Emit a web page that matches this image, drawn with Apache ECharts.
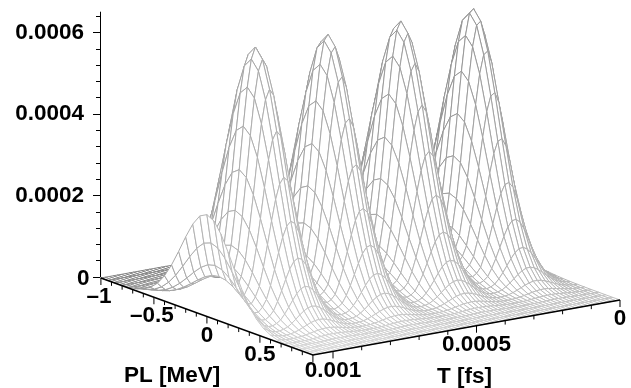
<!DOCTYPE html>
<html>
<head>
<meta charset="utf-8">
<style>
html, body { margin: 0; padding: 0; background: #fff; }
#chart { width: 631px; height: 388px; }
</style>
<script src="https://cdn.jsdelivr.net/npm/echarts@6/dist/echarts.min.js"></script>
</head>
<body>
<div id="chart"></div>
<script>
// height along the PL = 0 crest, one value per T grid line from T = 0 to tMax, in units of 1e-4
const crestHeights = [
    0.13, 0.27, 0.52, 0.92, 1.50, 2.30, 3.26, 4.30, 5.28, 6.02, 6.38, 6.29, 5.76, 4.90, 3.88, 2.86,
    1.96, 1.24, 0.90, 0.72, 0.81, 1.14, 1.73, 2.54, 3.52, 4.56, 5.49, 6.15, 6.40, 6.19, 5.57, 4.66,
    3.62, 2.62, 1.76, 1.10, 0.78, 0.63, 0.72, 1.05, 1.61, 2.41, 3.36, 4.41, 5.36, 6.07, 6.39, 6.25,
    5.69, 4.81, 3.78, 2.76, 1.87, 1.18, 0.88, 0.74, 0.85, 1.22, 1.84, 2.68, 3.67, 4.71, 5.61, 6.21,
    6.40, 6.12, 5.45, 4.51, 3.46, 2.48, 1.64, 1.19, 0.91, 0.93, 1.22, 1.79, 2.50
];
// share of the crest height across PL, one value per PL grid line from -1 to 1
const plShape = [
    0.0002, 0.0005, 0.0015, 0.0039, 0.0094, 0.0211, 0.0439, 0.0847, 0.1509, 0.2494, 0.3810,
    0.5395, 0.7066, 0.8570, 0.9621, 1.0000, 0.9621, 0.8570, 0.7066, 0.5395, 0.3810, 0.2494,
    0.1509, 0.0847, 0.0439, 0.0211, 0.0094, 0.0039, 0.0015, 0.0005, 0.0002
];
const zLabelValues = [0.0002, 0.0004, 0.0006];
const zMajorTicks = [0, 0.0002, 0.0004, 0.0006];
const zMinorTicks = [
    0.00004, 0.00008, 0.00012, 0.00016, 0.00024, 0.00028, 0.00032, 0.00036,
    0.00044, 0.00048, 0.00052, 0.00056, 0.00064
];
const plMajorTicks = [-1, -0.5, 0, 0.5, 1];
const plMinorTicks = [-0.9, -0.8, -0.7, -0.6, -0.4, -0.3, -0.2, -0.1, 0.1, 0.2, 0.3, 0.4, 0.6, 0.7, 0.8, 0.9];
const plTickLabels = ['\u20131', '\u20130.5', '0', '0.5', ''];
const tMajorTicks = [0, 0.0005, 0.001];
const tMinorTicks = [0.0001, 0.0002, 0.0003, 0.0004, 0.0006, 0.0007, 0.0008, 0.0009];
const tTickLabels = ['0', '0.0005', '0.001'];

const tMax = 0.00107;
const labelFont = 'bold 22.5px "Liberation Sans"';

const chartDom = document.getElementById('chart');
const myChart = echarts.init(chartDom, null, { renderer: 'canvas' });

// the floor is sheared onto the page: x axis counts page columns, y axis stays in z units
const viewX = (t, pl) => 620 - 287000 * t + 106 * (pl - 1);
const viewZ = (t, pl, z) => z - (t / tMax * 55 + (pl - 1) * 38.5 + 23) / 407500;

const tAt = i => i * tMax / (crestHeights.length - 1);
const plAt = j => -1 + 2 * j / (plShape.length - 1);
const zAt = (i, j) => crestHeights[i] * plShape[j] * 1e-4;

const cells = [];
for (let i = 0; i < crestHeights.length - 1; i++) {
    for (let j = 0; j < plShape.length - 1; j++) {
        cells.push([i, j]);
    }
}

const lineGray = (i, j) => {
    const pl = plAt(j);
    const side = pl < 0 ? 164 + 54 * pl : 164 + 32 * pl;
    const g = Math.round(side + 24 * tAt(i) / tMax - 2.5 * zAt(i, j) * 1e4);
    return 'rgb(' + g + ',' + g + ',' + g + ')';
};

const renderCell = (params, api) => {
    const i = api.value(0);
    const j = api.value(1);
    const points = [[i, j], [i + 1, j], [i + 1, j + 1], [i, j + 1]].map(c => {
        const t = tAt(c[0]);
        const pl = plAt(c[1]);
        return api.coord([viewX(t, pl), viewZ(t, pl, zAt(c[0], c[1]))]);
    });
    return {
        type: 'polygon',
        shape: { points: points },
        style: { fill: '#fff', stroke: lineGray(i, j), lineWidth: 1 },
        silent: true
    };
};

// floor axes: each item is [t, pl, tick length, label, label nudge]
const floorTicks = [];
plMajorTicks.forEach((v, k) => floorTicks.push([tMax, v, 7, plTickLabels[k], v < 0 ? -2 : 0]));
plMinorTicks.forEach(v => floorTicks.push([tMax, v, 4, '', 0]));
tMajorTicks.forEach((v, k) => floorTicks.push([v, 1, 7, tTickLabels[k], 0]));
tMinorTicks.forEach(v => floorTicks.push([v, 1, 4, '', 0]));

const renderFloorTick = (params, api) => {
    const t = api.value(0);
    const pl = api.value(1);
    const len = api.value(2);
    const p = api.coord([viewX(t, pl), viewZ(t, pl, 0)]);
    const children = [{
        type: 'line',
        shape: { x1: p[0], y1: p[1], x2: p[0], y2: p[1] + len },
        style: { stroke: '#000', lineWidth: 1 }
    }];
    const text = floorTicks[params.dataIndex][3];
    if (text) {
        children.push({
            type: 'text',
            style: {
                text: text,
                x: p[0] + floorTicks[params.dataIndex][4],
                y: p[1] + 19,
                font: labelFont,
                fill: '#000',
                align: 'center',
                verticalAlign: 'middle'
            }
        });
    }
    return { type: 'group', children: children, silent: true };
};

const renderFloorLine = (params, api) => {
    const a = api.coord([viewX(tMax, -1), viewZ(tMax, -1, 0)]);
    const b = api.coord([viewX(tMax, 1), viewZ(tMax, 1, 0)]);
    const c = api.coord([viewX(0, 1), viewZ(0, 1, 0)]);
    return {
        type: 'polyline',
        shape: { points: [a, b, c] },
        style: { fill: 'none', stroke: '#000', lineWidth: 1.6 },
        silent: true
    };
};

const option = {
    animation: false,
    grid: { left: 100, right: 0, top: 12.1, height: 264.9 },
    xAxis: { type: 'value', min: 100, max: 631, show: false },
    yAxis: [
        {
            type: 'value',
            min: 0,
            max: 0.00065,
            splitLine: { show: false },
            axisLine: { show: true, onZero: false, lineStyle: { color: '#000', width: 1 } },
            axisTick: { show: true, length: 7, customValues: zMajorTicks, lineStyle: { color: '#000' } },
            axisLabel: {
                customValues: zLabelValues,
                formatter: v => v.toFixed(4),
                margin: 16,
                color: '#000',
                fontFamily: 'Liberation Sans',
                fontWeight: 'bold',
                fontSize: 22.5
            }
        },
        {
            type: 'value',
            position: 'left',
            min: 0,
            max: 0.00065,
            splitLine: { show: false },
            axisLine: { show: false },
            axisTick: { show: true, length: 4, customValues: zMinorTicks, lineStyle: { color: '#000' } },
            axisLabel: { show: false }
        }
    ],
    graphic: [
        { type: 'text', left: 124, top: 364, style: { text: 'PL [MeV]', font: labelFont, fill: '#000' } },
        { type: 'text', left: 437, top: 365, style: { text: 'T [fs]', font: labelFont, fill: '#000' } },
        { type: 'text', left: 77, top: 267, style: { text: '0', font: labelFont, fill: '#000' } }
    ],
    series: [
        { type: 'custom', name: 'surface', renderItem: renderCell, data: cells, clip: false, z: 2 },
        { type: 'custom', name: 'floor line', renderItem: renderFloorLine, data: [[0, 0]], clip: false, z: 3 },
        { type: 'custom', name: 'floor ticks', renderItem: renderFloorTick, data: floorTicks.map(d => d.slice(0, 3)), clip: false, z: 3 }
    ]
};

myChart.setOption(option);

window.addEventListener('resize', () => myChart.resize());
</script>
</body>
</html>
